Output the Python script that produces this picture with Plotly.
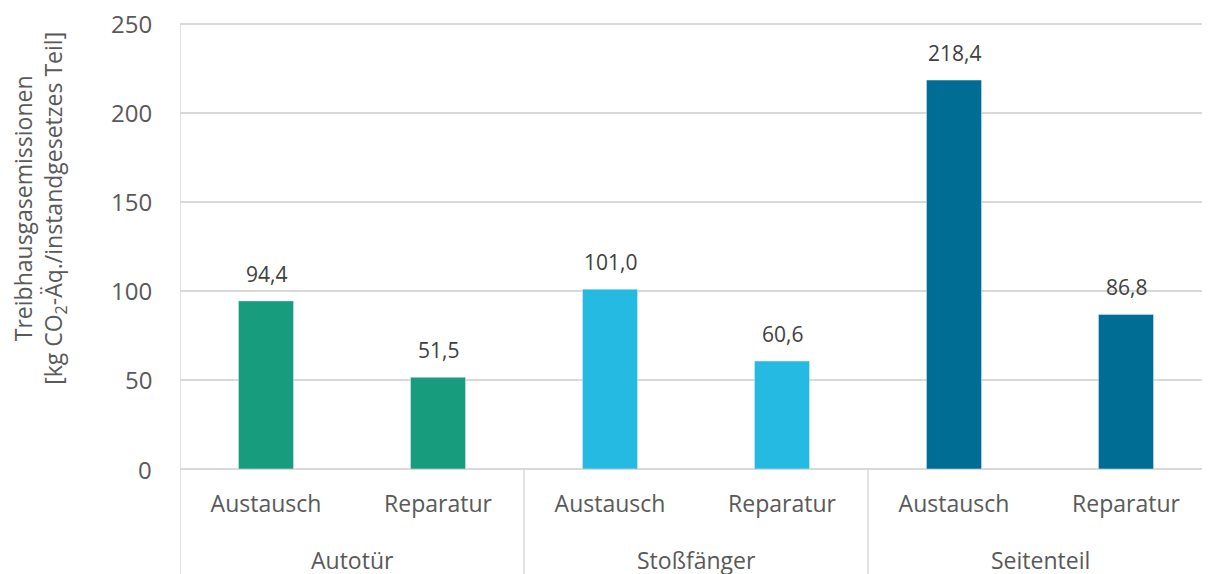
import plotly.graph_objects as go

groups = ["Autotür", "Stoßfänger", "Seitenteil"]
variants = ["Austausch", "Reparatur"]
values = [94.4, 51.5, 101.0, 60.6, 218.4, 86.8]
group_colors = ["#179C7D", "#25BAE2", "#006E94"]
y_ticks = [0, 50, 100, 150, 200, 250]

FONT = "Open Sans"
GRID = "#D9D9D9"

x_idx = list(range(len(values)))
bar_colors = [group_colors[i // 2] for i in x_idx]
tick_text = [variants[i % 2] for i in x_idx]

fig = go.Figure(go.Bar(
    x=x_idx, y=values, marker_color=bar_colors, width=0.32,
    hoverinfo="skip",
))

# data labels above the bars (German decimal comma)
for xi, v in zip(x_idx, values):
    fig.add_annotation(
        x=xi, y=v, text=f"{v:.1f}".replace(".", ","), showarrow=False,
        yanchor="bottom", yshift=11,
        font=dict(family=FONT, size=21, color="#404040"),
    )

# y tick labels as annotations: plotly drops the top one (250) at the very edge
for t in y_ticks:
    fig.add_annotation(
        x=0, y=t, xref="paper", yref="y", text=str(t), showarrow=False,
        xanchor="right", yanchor="middle", xshift=-26,
        font=dict(family=FONT, size=24, color="#595959"),
    )

# group labels below the variant labels
for g, name in enumerate(groups):
    fig.add_annotation(
        x=2 * g + 0.5, y=-0.204, xref="x", yref="paper", text=name,
        showarrow=False, yanchor="middle",
        font=dict(family=FONT, size=23, color="#595959"),
    )

# y title as an annotation so it can sit a bit above the plot centre, like the original
fig.add_annotation(
    x=0, y=0.582, xref="paper", yref="paper", xshift=-140,
    xanchor="center", yanchor="middle", textangle=-90, showarrow=False,
    text="Treibhausgasemissionen<br>[kg CO<sub>2</sub>-Äq./instandgesetzes Teil]",
    font=dict(family=FONT, size=23, color="#595959"),
)

# axis line on the left plus group dividers in the label area
fig.add_shape(type="line", xref="x", yref="paper", x0=-0.5, x1=-0.5,
              y0=-0.26, y1=0.996, line=dict(color=GRID, width=1.5))
for b in [1.5, 3.5, 5.5]:
    fig.add_shape(type="line", xref="x", yref="paper", x0=b, x1=b,
                  y0=-0.26, y1=0, line=dict(color=GRID, width=1.5))

fig.update_layout(
    width=1210, height=574,
    margin=dict(l=172, r=6, t=14, b=113),
    plot_bgcolor="white", paper_bgcolor="white",
    showlegend=False,
    font=dict(family=FONT, color="#595959"),
    xaxis=dict(
        range=[-0.5, 5.5], tickvals=x_idx, ticktext=tick_text,
        tickfont=dict(size=23, color="#595959"), showgrid=False,
        zeroline=False, showline=False, ticks="", ticklabelstandoff=19,
    ),
    yaxis=dict(
        range=[0, 251], tickvals=y_ticks, showticklabels=False,
        showgrid=True, gridcolor=GRID, gridwidth=1.5,
        zeroline=True, zerolinecolor=GRID, zerolinewidth=1.5, ticks="",
    ),
)

fig.write_html("out.html")
